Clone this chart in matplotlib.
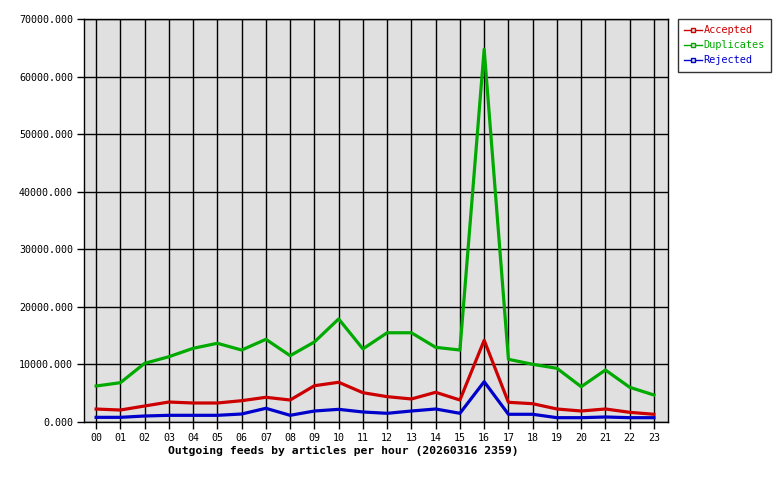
import matplotlib
matplotlib.use("Agg")
import matplotlib.pyplot as plt

# Data
hours = ['00', '01', '02', '03', '04', '05', '06', '07', '08', '09', '10', '11',
         '12', '13', '14', '15', '16', '17', '18', '19', '20', '21', '22', '23']
accepted = [2250, 2080, 2780, 3470, 3300, 3300, 3700, 4290, 3820, 6300, 6900, 5090,
            4400, 4000, 5160, 3820, 14190, 3420, 3180, 2260, 1910, 2260, 1680, 1340]
duplicates = [6250, 6830, 10190, 11340, 12800, 13670, 12500, 14360, 11520, 13900, 17900, 12700,
              15500, 15500, 12970, 12500, 64750, 10890, 10020, 9330, 6130, 9030, 6030, 4690]
rejected = [810, 810, 1040, 1160, 1160, 1160, 1390, 2380, 1160, 1910, 2200, 1740,
            1510, 1910, 2260, 1510, 7000, 1340, 1340, 750, 750, 870, 750, 750]
yticks = [0, 10000, 20000, 30000, 40000, 50000, 60000, 70000]

font = 'DejaVu Sans Mono'

fig = plt.figure(figsize=(7.8, 4.8), dpi=100)
ax = fig.add_axes([84 / 780, 58 / 480, 584 / 780, 403 / 480])
ax.set_facecolor('#e0e0e0')

x = list(range(len(hours)))
series = [('Accepted', accepted, '#cc0000'),
          ('Duplicates', duplicates, '#00aa00'),
          ('Rejected', rejected, '#0000cc')]
for name, vals, col in series:
    ax.plot(x, vals, color=col, lw=2.3, zorder=3)

ax.set_xlim(-0.5, 23.58)
ax.set_ylim(0, 70000)
ax.set_xticks(x)
ax.set_xticklabels(hours, fontfamily=font, fontsize=7.2)
ax.set_yticks(yticks)
ax.set_yticklabels([f'{v}.000' for v in yticks], fontfamily=font, fontsize=7.2)
ax.tick_params(direction='out', length=5, width=1, color='black', pad=3)
ax.grid(True, color='black', lw=1, zorder=1)
ax.set_axisbelow(True)
for s in ax.spines.values():
    s.set_linewidth(1)

fig.text(343 / 780, 1 - 451 / 480, 'Outgoing feeds by articles per hour (20260316 2359)',
         ha='center', va='center', fontfamily=font, fontsize=8.2, fontweight='bold')

# legend with a small marker in the middle of each line
handles = []
for name, vals, col in series:
    h, = ax.plot([], [], color=col, lw=1, marker='s', markersize=3,
                 mfc='#e0e0e0', mec=col)
    handles.append(h)
leg = ax.legend(handles, [s[0] for s in series], loc='upper left',
                bbox_to_anchor=(678 / 780, 1 - 19 / 480), bbox_transform=fig.transFigure,
                borderaxespad=0, frameon=True, fancybox=False, handlelength=1.7,
                handletextpad=0.2, labelspacing=0.5, borderpad=0.6,
                prop={'family': font, 'size': 7.4})
leg.get_frame().set_edgecolor('black')
leg.get_frame().set_linewidth(1)
for t, (name, vals, col) in zip(leg.get_texts(), series):
    t.set_color(col)

fig.savefig('out.png', dpi=100, facecolor='white')
